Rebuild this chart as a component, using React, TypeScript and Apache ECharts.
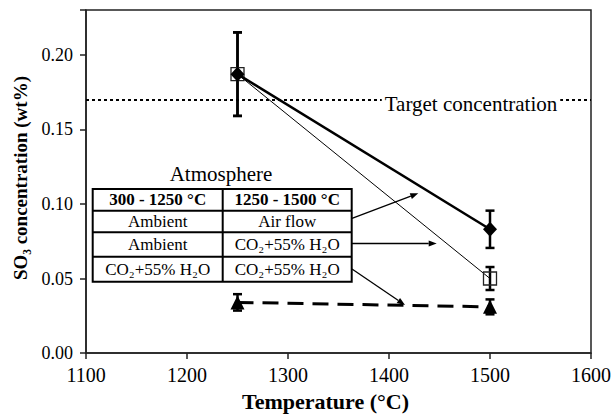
import React, { useEffect, useRef } from "react";
import * as echarts from "echarts";

const temps = [1250, 1500];
const airFlow = [0.187, 0.083];
const airFlowErr = [0.028, 0.0125];
const co2Late = [0.187, 0.05];
const co2LateErr = [0.028, 0.0077];
const co2All = [0.034, 0.031];
const co2AllErr = [0.0055, 0.005];
const targetConc = 0.17;

const xTicks = { min: 1100, max: 1600, step: 100 };
const yTicks = { min: 0, max: 0.23, step: 0.05 };

const tableHeader = ["300 - 1250 °C", "1250 - 1500 °C"];
const tableRows = [
  ["Ambient", "Air flow"],
  ["Ambient", "CO₂+55% H₂O"],
  ["CO₂+55% H₂O", "CO₂+55% H₂O"],
];

const FONT = '"Liberation Serif", "Times New Roman", serif';

function pairs(ys: number[]) {
  return temps.map((t, i) => [t, ys[i]]);
}
function errPairs(ys: number[], es: number[]) {
  return temps.map((t, i) => [t, ys[i], es[i]]);
}

function arrow(x1: number, y1: number, x2: number, y2: number) {
  const dx = x2 - x1;
  const dy = y2 - y1;
  const len = Math.sqrt(dx * dx + dy * dy);
  const ux = dx / len;
  const uy = dy / len;
  const hl = 8;
  const hw = 3;
  const bx = x2 - ux * hl;
  const by = y2 - uy * hl;
  return [
    {
      type: "line",
      shape: { x1, y1, x2: bx, y2: by },
      style: { stroke: "#000", lineWidth: 1.3 },
      silent: true,
    },
    {
      type: "polygon",
      shape: {
        points: [
          [x2, y2],
          [bx - uy * hw, by + ux * hw],
          [bx + uy * hw, by - ux * hw],
        ],
      },
      style: { fill: "#000" },
      silent: true,
    },
  ];
}

function errorSeries(data: number[][]) {
  return {
    type: "custom",
    data,
    z: 3,
    silent: true,
    renderItem: (params: any, api: any) => {
      const x = api.value(0);
      const y = api.value(1);
      const e = api.value(2);
      const top = api.coord([x, y + e]);
      const bot = api.coord([x, y - e]);
      const cw = 4.5;
      const st = { stroke: "#000", lineWidth: 2.5 };
      return {
        type: "group",
        children: [
          { type: "line", shape: { x1: top[0], y1: top[1], x2: bot[0], y2: bot[1] }, style: st },
          { type: "line", shape: { x1: top[0] - cw, y1: top[1], x2: top[0] + cw, y2: top[1] }, style: st },
          { type: "line", shape: { x1: bot[0] - cw, y1: bot[1], x2: bot[0] + cw, y2: bot[1] }, style: st },
        ],
      };
    },
  };
}

export default function App() {
  const ref = useRef<HTMLDivElement>(null);
  useEffect(() => {
    if (!ref.current) return;
    const chart = echarts.init(ref.current, undefined, { renderer: "svg" });

    const tL = 92.7, tR = 351.7, tT = 189, tB = 281.7, tC = 222.7;
    const rowY = [210.7, 232.3, 256.7];
    const rowsY = [tT, ...rowY, tB];
    const textStyle = (text: string, x: number, y: number, bold: boolean, size = 17) => ({
      type: "text",
      silent: true,
      style: {
        text,
        x,
        y,
        align: "center",
        verticalAlign: "middle",
        fontFamily: FONT,
        fontSize: size,
        fontWeight: bold ? "bold" : "normal",
        fill: "#000",
      },
    });

    const graphics: any[] = [];
    graphics.push(textStyle("Atmosphere", 221, 174, false, 21));
    graphics.push({
      type: "rect",
      shape: { x: tL, y: tT, width: tR - tL, height: tB - tT },
      style: { fill: "#fff", stroke: "#000", lineWidth: 2 },
      silent: true,
    });
    graphics.push({
      type: "line",
      shape: { x1: tC, y1: tT, x2: tC, y2: tB },
      style: { stroke: "#000", lineWidth: 2 },
      silent: true,
    });
    rowY.forEach((y) =>
      graphics.push({
        type: "line",
        shape: { x1: tL, y1: y, x2: tR, y2: y },
        style: { stroke: "#000", lineWidth: 2 },
        silent: true,
      })
    );
    const c1 = (tL + tC) / 2;
    const c2 = (tC + tR) / 2;
    graphics.push(textStyle(tableHeader[0], c1, (rowsY[0] + rowsY[1]) / 2, true));
    graphics.push(textStyle(tableHeader[1], c2, (rowsY[0] + rowsY[1]) / 2, true));
    tableRows.forEach((r, i) => {
      const y = (rowsY[i + 1] + rowsY[i + 2]) / 2;
      graphics.push(textStyle(r[0], c1, y, false));
      graphics.push(textStyle(r[1], c2, y, false));
    });
    graphics.push(...arrow(352, 218.3, 418.3, 193.3));
    graphics.push(...arrow(352, 243.5, 436.7, 243.5));
    graphics.push(...arrow(352, 269, 405, 305));
    graphics.push({
      type: "text",
      silent: true,
      z: 10,
      style: {
        text: "Target concentration",
        x: 471,
        y: 104,
        align: "center",
        verticalAlign: "middle",
        fontFamily: FONT,
        fontSize: 21,
        fill: "#000",
        backgroundColor: "#fff",
        padding: [2, 3, 2, 3],
      },
    });

    const axisLabelY = {
      fontFamily: FONT,
      fontSize: 18,
      color: "#000",
      margin: 13,
      formatter: (v: number) => {
        const k = v / yTicks.step;
        return Math.abs(k - Math.round(k)) < 1e-6 ? v.toFixed(2) : "";
      },
    };

    chart.setOption({
      animation: false,
      backgroundColor: "#fff",
      grid: {
        left: 86,
        right: 20,
        top: 10,
        bottom: 58,
        show: true,
        borderColor: "#222",
        borderWidth: 1.5,
      },
      xAxis: {
        type: "value",
        min: xTicks.min,
        max: xTicks.max,
        interval: xTicks.step,
        name: "Temperature (°C)",
        nameLocation: "middle",
        nameGap: 36,
        nameTextStyle: {
          fontFamily: FONT,
          fontSize: 22,
          fontWeight: "bold",
          color: "#000",
          padding: [0, 26, 0, 0],
        },
        axisLine: { show: true, onZero: false, lineStyle: { color: "#222", width: 1.5 } },
        axisTick: { show: true, inside: false, length: 6, lineStyle: { color: "#222", width: 1.5 } },
        splitLine: { show: false },
        axisLabel: {
          fontFamily: FONT,
          fontSize: 20,
          color: "#000",
          margin: 12,
          formatter: (v: number) => String(v),
        },
      },
      yAxis: {
        type: "value",
        min: yTicks.min,
        max: yTicks.max,
        interval: yTicks.step,
        name: "SO₃ concentration (wt%)",
        nameLocation: "middle",
        nameGap: 56,
        nameTextStyle: {
          fontFamily: FONT,
          fontSize: 19,
          fontWeight: "bold",
          color: "#000",
          padding: [0, 0, 0, 7],
        },
        axisLine: { show: true, onZero: false, lineStyle: { color: "#222", width: 1.5 } },
        axisTick: { show: true, inside: false, length: 6, lineStyle: { color: "#222", width: 1.5 } },
        splitLine: { show: false },
        axisLabel: axisLabelY,
      },
      graphic: graphics,
      series: [
        {
          type: "line",
          name: "CO2 late",
          data: pairs(co2Late),
          z: 4,
          symbol: "rect",
          symbolSize: 13,
          itemStyle: { color: "rgba(0,0,0,0)", borderColor: "#222", borderWidth: 1.3 },
          lineStyle: { color: "#000", width: 1 },
          markLine: {
            silent: true,
            symbol: "none",
            label: { show: false },
            lineStyle: { color: "#000", type: [3, 3], width: 2 },
            data: [{ yAxis: targetConc }],
          },
        },
        {
          type: "line",
          name: "Air flow",
          data: pairs(airFlow),
          z: 5,
          symbol: "diamond",
          symbolSize: [14, 15],
          itemStyle: { color: "#000" },
          lineStyle: { color: "#000", width: 2.5 },
        },
        {
          type: "line",
          name: "CO2 all",
          data: pairs(co2All),
          z: 5,
          symbol: "triangle",
          symbolSize: 14,
          itemStyle: { color: "#000" },
          lineStyle: { color: "#000", width: 3, type: [16, 9] },
        },
        errorSeries(errPairs(airFlow, airFlowErr)),
        errorSeries(errPairs(co2Late, co2LateErr)),
        errorSeries(errPairs(co2All, co2AllErr)),
      ],
    });
    return () => chart.dispose();
  }, []);
  return (
    <div
      ref={ref}
      style={{ position: "absolute", left: 0, top: 0, width: 614, height: 417 }}
    />
  );
}
